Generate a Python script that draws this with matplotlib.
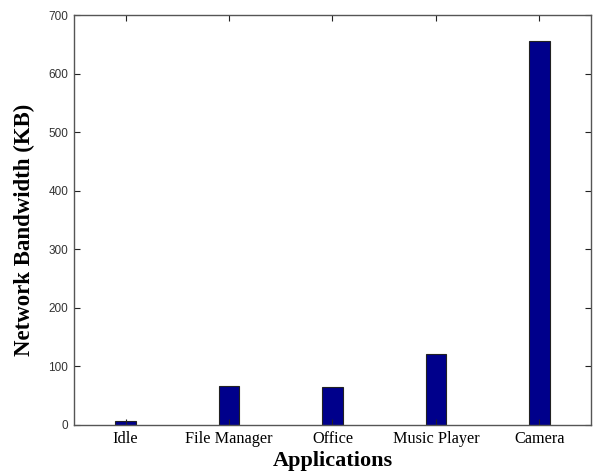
import matplotlib
matplotlib.use("Agg")
import matplotlib.pyplot as plt

# Network bandwidth used per application
applications = ["Idle", "File Manager", "Office", "Music Player", "Camera"]
bandwidth_kb = [7, 67, 65, 121, 656]
y_ticks = [0, 100, 200, 300, 400, 500, 600, 700]

fig = plt.figure(figsize=(5.98, 4.75), dpi=100)
ax = fig.add_axes([0.1237, 0.1053, 0.8645, 0.8631])

posicoes = range(1, len(applications) + 1)
ax.bar(posicoes, bandwidth_kb, width=0.2, color="#00008B",
       edgecolor="#222222", linewidth=0.8)

ax.set_xlim(0.5, 5.5)
ax.set_ylim(0, 700)
ax.set_xticks(list(posicoes))
ax.set_xticklabels(applications, family="Liberation Serif", fontsize=11.7)
ax.set_yticks(y_ticks)
ax.set_yticklabels([str(v) for v in y_ticks], family="Liberation Sans",
                   fontsize=8.5, color="#333333")

ax.tick_params(direction="in", top=True, right=True, length=4, width=0.8,
               color="#222222", pad=4)
for lado in ax.spines.values():
    lado.set_color("#555555")
    lado.set_linewidth(1.0)

ax.set_xlabel("Applications", family="Liberation Serif", fontweight="bold",
              fontsize=16, labelpad=3)
ax.set_ylabel("Network Bandwidth (KB)", family="Liberation Serif",
              fontweight="bold", fontsize=16.5)
ax.yaxis.set_label_coords(-0.075, 0.476)

fig.savefig("out.png", dpi=100)
